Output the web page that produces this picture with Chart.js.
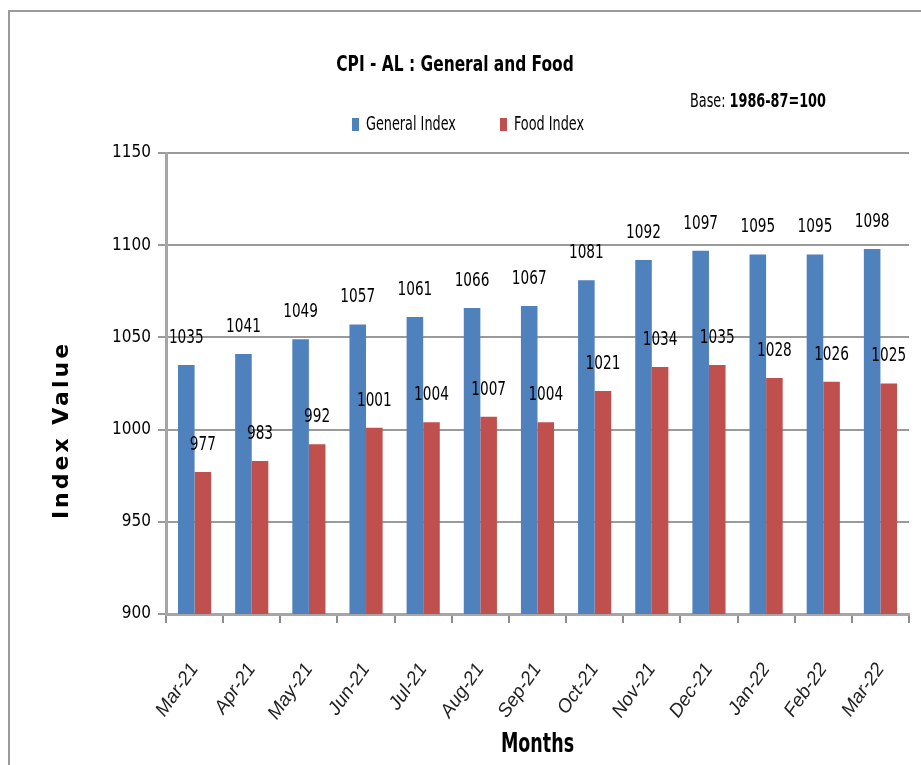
<!DOCTYPE html>
<html>
<head>
<meta charset="utf-8">
<script src="https://cdn.jsdelivr.net/npm/chart.js@4.4.1/dist/chart.umd.min.js"></script>
<style>
  body { margin: 0; background: #fff; }
  canvas { display: block; }
</style>
</head>
<body>
<canvas id="cpi-chart" width="921" height="765"></canvas>
<script>
// CPI-AL monthly data (Base 1986-87=100)
var months = ['Mar-21','Apr-21','May-21','Jun-21','Jul-21','Aug-21','Sep-21','Oct-21','Nov-21','Dec-21','Jan-22','Feb-22','Mar-22'];
var generalIndex = [1035, 1041, 1049, 1057, 1061, 1066, 1067, 1081, 1092, 1097, 1095, 1095, 1098];
var foodIndex = [977, 983, 992, 1001, 1004, 1007, 1004, 1021, 1034, 1035, 1028, 1026, 1025];
var yTicks = [900, 950, 1000, 1050, 1100, 1150];

var narrow = '"Liberation Sans Narrow", "DejaVu Sans Condensed", sans-serif';

// draw text squeezed horizontally (the original chart text is tall and narrow)
function squeezed(ctx, text, x, y, font, sx, align) {
    ctx.save();
    ctx.font = font;
    ctx.textAlign = align || 'center';
    ctx.translate(x, y);
    ctx.scale(sx, 1);
    ctx.fillText(text, 0, 0);
    var w = ctx.measureText(text).width * sx;
    ctx.restore();
    return w;
}

var decor = {
    id: 'decor',
    beforeDraw: function(chart) {
        var ctx = chart.ctx;
        ctx.save();
        ctx.fillStyle = '#fff';
        ctx.fillRect(0, 0, chart.width, chart.height);
        ctx.strokeStyle = '#9a9a9a';
        ctx.lineWidth = 2;
        ctx.beginPath();
        ctx.moveTo(9, chart.height + 2);
        ctx.lineTo(9, 11);
        ctx.lineTo(chart.width + 2, 11);
        ctx.stroke();
        ctx.restore();
    },
    afterDraw: function(chart) {
        var ctx = chart.ctx;
        var area = chart.chartArea;
        ctx.save();
        ctx.fillStyle = '#000';
        ctx.textBaseline = 'middle';

        // title
        squeezed(ctx, 'CPI - AL : General and Food', 455, 65, 'bold 22px ' + narrow, 0.78);

        // base note
        var w = squeezed(ctx, 'Base: ', 690, 102, '19px ' + narrow, 0.75, 'left');
        squeezed(ctx, '1986-87=100', 690 + w, 102, 'bold 19px ' + narrow, 0.75, 'left');

        // legend
        ctx.fillStyle = '#4F81BD';
        ctx.fillRect(352, 118, 7, 13);
        ctx.fillStyle = '#C0504D';
        ctx.fillRect(500, 118, 7, 13);
        ctx.fillStyle = '#000';
        squeezed(ctx, 'General Index', 366, 125, '19px ' + narrow, 0.75, 'left');
        squeezed(ctx, 'Food Index', 514, 125, '19px ' + narrow, 0.75, 'left');

        // axis titles
        squeezed(ctx, 'Months', (area.left + area.right) / 2, 745, 'bold 27px ' + narrow, 0.72);

        ctx.save();
        ctx.translate(62, 430);
        ctx.rotate(-Math.PI / 2);
        ctx.textAlign = 'center';
        ctx.font = 'bold 22px "DejaVu Sans", sans-serif';
        ctx.letterSpacing = '3px';
        ctx.fillText('Index Value', 0, 0);
        ctx.restore();

        // value labels over bars
        chart.data.datasets.forEach(function(ds, i) {
            var meta = chart.getDatasetMeta(i);
            meta.data.forEach(function(bar, j) {
                squeezed(ctx, String(ds.data[j]), bar.x, bar.y - 27, '19px ' + narrow, 0.8);
            });
        });
        ctx.restore();
    }
};

var ctx = document.getElementById('cpi-chart').getContext('2d');
new Chart(ctx, {
    type: 'bar',
    data: {
        labels: months,
        datasets: [
            {
                label: 'General Index',
                backgroundColor: '#4F81BD',
                data: generalIndex
            },
            {
                label: 'Food Index',
                backgroundColor: '#C0504D',
                data: foodIndex
            }
        ]
    },
    options: {
        responsive: false,
        animation: false,
        layout: { padding: { left: 8, right: 12, top: 153, bottom: 0 } },
        datasets: { bar: { categoryPercentage: 0.58, barPercentage: 1 } },
        plugins: {
            legend: { display: false },
            title: { display: false },
            tooltip: { enabled: false }
        },
        scales: {
            x: {
                afterFit: function(scale) {
                    scale.height = 151;
                    scale.paddingLeft = 0;
                    scale.paddingRight = 0;
                },
                grid: {
                    offset: true,
                    drawOnChartArea: false,
                    drawTicks: true,
                    tickLength: 9,
                    color: '#8c8c8c',
                    lineWidth: 2
                },
                border: { color: '#a6a6a6', width: 3 },
                ticks: {
                    minRotation: 55,
                    maxRotation: 55,
                    autoSkip: false,
                    padding: 36,
                    color: '#222',
                    font: { family: '"Liberation Sans", "DejaVu Sans", sans-serif', size: 19, style: 'italic' }
                }
            },
            y: {
                min: yTicks[0],
                max: yTicks[yTicks.length - 1],
                afterFit: function(scale) { scale.width = 158; },
                afterBuildTicks: function(scale) {
                    scale.ticks = yTicks.map(function(v) { return { value: v }; });
                },
                grid: {
                    color: '#9a9a9a',
                    lineWidth: 2,
                    tickLength: 8
                },
                border: { color: '#a6a6a6', width: 3 },
                ticks: {
                    padding: 7,
                    color: '#000',
                    font: { family: narrow, size: 17 },
                    callback: function(v) { return String(v); }
                }
            }
        }
    },
    plugins: [decor]
});
</script>
</body>
</html>
